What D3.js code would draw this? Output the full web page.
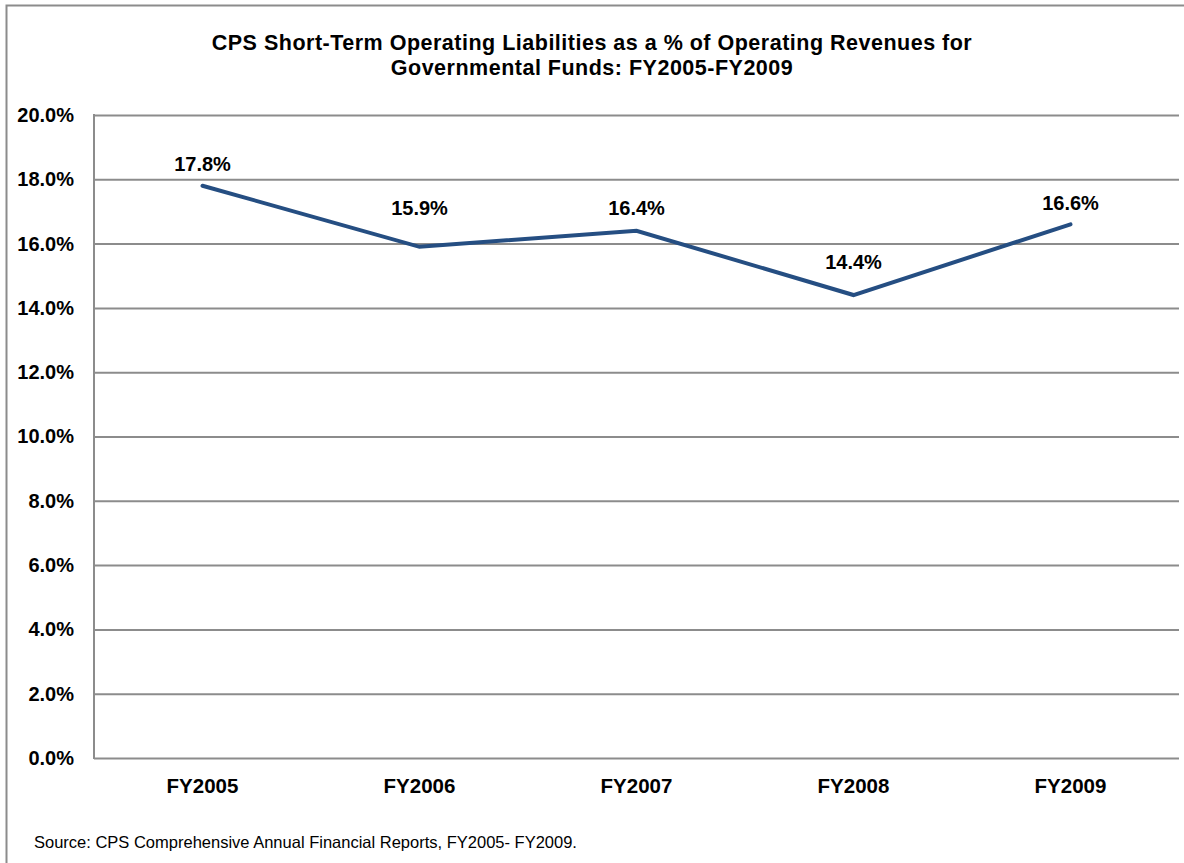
<!DOCTYPE html>
<html>
<head>
<meta charset="utf-8">
<script src="https://cdn.jsdelivr.net/npm/d3@7"></script>
<style>
  body { margin: 0; background: #fff; }
  text { font-family: "Liberation Sans", Arial, sans-serif; }
</style>
</head>
<body>
<svg id="chart"></svg>
<script>
const WIDTH = 1184;
const HEIGHT = 863;

const years = ['FY2005', 'FY2006', 'FY2007', 'FY2008', 'FY2009'];
const liabilityPct = [17.8, 15.9, 16.4, 14.4, 16.6];
const yTicks = [0, 2, 4, 6, 8, 10, 12, 14, 16, 18, 20];
const titleLines = [
    'CPS Short-Term Operating Liabilities as a % of Operating Revenues for',
    'Governmental Funds: FY2005-FY2009'
];
const sourceNote = 'Source: CPS Comprehensive Annual Financial Reports, FY2005- FY2009.';

// excel nudges the labels a bit differently per point
const labelNudge = [22, 39, 23, 33, 21];

const plot = {left: 94, right: 1179, top: 115, bottom: 758};

const svg = d3.select('#chart')
    .attr('width', WIDTH)
    .attr('height', HEIGHT);

// outer chart frame (right/bottom edges fall off the picture)
svg.append('rect')
    .attr('x', 6.5).attr('y', 5.5)
    .attr('width', WIDTH + 20).attr('height', HEIGHT + 20)
    .attr('fill', 'none')
    .attr('stroke', '#8c8c8c')
    .attr('stroke-width', 2);

const x = d3.scaleBand()
    .domain(years)
    .range([plot.left, plot.right]);

const y = d3.scaleLinear()
    .domain([0, 20])
    .range([plot.bottom, plot.top]);

// gridlines + y labels
const yAxis = d3.axisLeft(y)
    .tickValues(yTicks)
    .tickSize(-(plot.right - plot.left))
    .tickPadding(20)
    .tickFormat(d => d.toFixed(1) + '%');

const yAxisElement = svg.append('g')
    .attr('transform', `translate(${plot.left},0)`)
    .call(yAxis);
yAxisElement.select('.domain').remove();
yAxisElement.selectAll('line')
    .attr('stroke', '#8c8c8c')
    .attr('stroke-width', 2);
yAxisElement.selectAll('text')
    .attr('fill', '#000')
    .style('font-size', '20px')
    .style('font-weight', 'bold');

// left axis line
svg.append('line')
    .attr('x1', plot.left).attr('x2', plot.left)
    .attr('y1', plot.top - 1).attr('y2', plot.bottom + 1)
    .attr('stroke', '#8c8c8c')
    .attr('stroke-width', 2);

// x labels
const xAxis = d3.axisBottom(x).tickSize(0).tickPadding(20);
const xAxisElement = svg.append('g')
    .attr('transform', `translate(0,${plot.bottom})`)
    .call(xAxis);
xAxisElement.select('.domain').remove();
xAxisElement.selectAll('text')
    .attr('fill', '#000')
    .style('font-size', '20.5px')
    .style('font-weight', 'bold');

const pts = years.map((yr, i) => ({yr, v: liabilityPct[i], nudge: labelNudge[i]}));

const line = d3.line()
    .x(d => x(d.yr) + x.bandwidth() / 2)
    .y(d => y(d.v));

svg.append('path')
    .datum(pts)
    .attr('d', line)
    .attr('fill', 'none')
    .attr('stroke', '#254e82')
    .attr('stroke-width', 4)
    .attr('stroke-linejoin', 'miter')
    .attr('stroke-linecap', 'round');

svg.selectAll('.val-label')
    .data(pts)
    .enter()
    .append('text')
    .attr('class', 'val-label')
    .attr('x', d => x(d.yr) + x.bandwidth() / 2)
    .attr('y', d => y(d.v) - d.nudge)
    .attr('dy', '0.35em')
    .attr('text-anchor', 'middle')
    .style('font-size', '20px')
    .style('font-weight', 'bold')
    .text(d => d.v.toFixed(1) + '%');

// title
svg.selectAll('.title')
    .data(titleLines)
    .enter()
    .append('text')
    .attr('class', 'title')
    .attr('x', 592)
    .attr('y', (d, i) => 42 + i * 25)
    .attr('dy', '0.35em')
    .attr('text-anchor', 'middle')
    .style('font-size', '21.5px')
    .style('letter-spacing', '0.5px')
    .style('font-weight', 'bold')
    .text(d => d);

svg.append('text')
    .attr('x', 34)
    .attr('y', 842)
    .attr('dy', '0.35em')
    .style('font-size', '16.5px')
    .text(sourceNote);
</script>
</body>
</html>
